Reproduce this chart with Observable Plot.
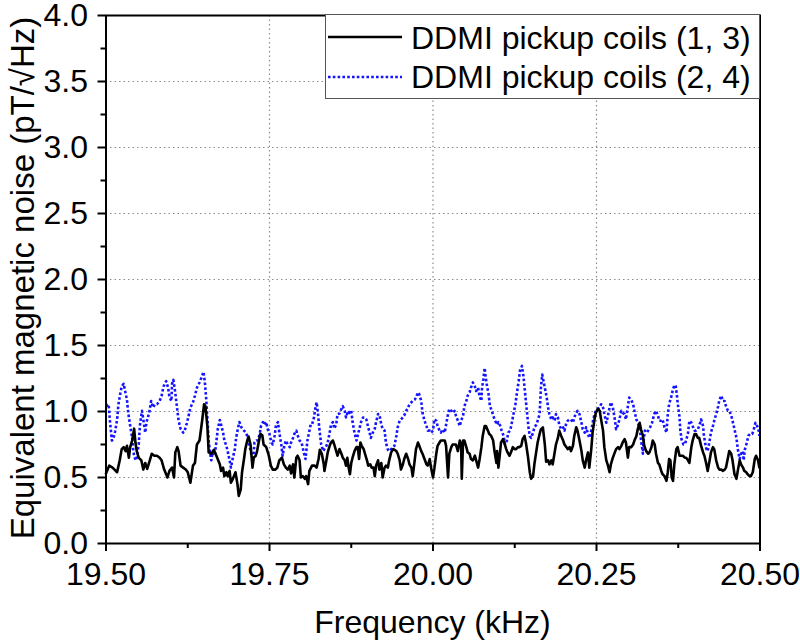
<!DOCTYPE html>
<html>
<head>
<meta charset="utf-8">
<script src="https://cdn.jsdelivr.net/npm/d3@7"></script>
<script src="https://cdn.jsdelivr.net/npm/@observablehq/plot@0.6"></script>
<style>
  html, body { margin: 0; padding: 0; background: #fff; }
  #wrap { position: relative; width: 800px; height: 644px; font-family: "Liberation Sans", Arial, sans-serif; color: #000; }
  .title { position: absolute; font-size: 32px; line-height: 1; white-space: nowrap; }
  #legend { position: absolute; left: 325px; top: 14px; }
</style>
</head>
<body>
<div id="wrap"></div>
<script>
// ---------- data ----------
const seriesNames = ["DDMI pickup coils (1, 3)", "DDMI pickup coils (2, 4)"];
const xTicks = [19.5, 19.75, 20.0, 20.25, 20.5];
const xMinorTicks = [19.625, 19.875, 20.125, 20.375];
const xGrid = [19.75, 20.0, 20.25];
const yTicks = [0, 0.5, 1.0, 1.5, 2.0, 2.5, 3.0, 3.5, 4.0];
const yMinorTicks = [0.25, 0.75, 1.25, 1.75, 2.25, 2.75, 3.25, 3.75];
const yGrid = [0.5, 1.0, 1.5, 2.0, 2.5, 3.0, 3.5];

const blackFreq = [
19.500,19.505,19.510,19.517,19.521,19.524,19.527,19.530,19.532,19.535,19.537,19.540,19.543,19.545,19.547,19.550,19.554,19.557,19.560,19.563,19.567,19.570,19.574,19.578,19.582,19.585,19.589,19.594,19.597,19.601,19.604,19.606,19.609,19.611,19.614,19.618,19.622,19.625,19.629,19.633,19.636,19.639,19.643,19.647,19.650,19.652,19.655,19.657,19.661,19.665,
19.670,19.674,19.676,19.679,19.681,19.684,19.686,19.689,19.691,19.694,19.698,19.701,19.703,19.706,19.708,19.711,19.713,19.716,19.718,19.721,19.724,19.726,19.729,19.731,19.734,19.736,19.739,19.741,19.745,19.749,19.752,19.755,19.759,19.762,19.765,19.769,19.772,19.775,19.778,19.781,19.783,19.786,19.788,19.791,19.793,19.796,19.798,19.801,19.804,19.806,19.809,19.811,19.815,19.819,19.822,19.825,19.827,19.830,19.833,
19.834,19.837,19.839,19.842,19.844,19.847,19.849,19.852,19.854,19.857,19.860,19.862,19.865,19.867,19.869,19.871,19.873,19.875,19.877,19.880,19.883,19.885,19.887,19.889,19.891,19.894,19.896,19.899,19.901,19.904,19.906,19.909,19.911,19.913,19.916,19.918,19.921,19.923,19.926,19.928,19.931,19.933,19.936,19.939,19.941,19.944,19.946,19.949,19.951,19.954,19.956,19.959,19.962,19.964,19.967,19.969,19.972,19.974,19.977,19.979,19.982,19.984,19.987,19.990,19.992,19.995,19.997,20.000,
20.002,20.005,20.007,20.010,20.012,20.015,20.018,20.020,20.023,20.025,20.028,20.030,20.033,20.035,20.038,20.041,20.043,20.044,20.046,20.048,20.051,20.053,20.056,20.058,20.061,20.064,20.066,20.069,20.071,20.074,20.076,20.079,20.081,20.084,20.086,20.089,20.092,20.094,20.097,20.098,20.100,20.102,20.104,20.107,20.109,20.112,20.114,20.117,20.120,20.122,20.125,20.127,20.130,20.132,20.135,20.137,20.140,20.142,20.145,20.148,20.150,20.153,20.155,20.158,20.160,20.163,20.165,20.168,20.171,
20.173,20.176,20.178,20.181,20.183,20.186,20.188,20.191,20.193,20.196,20.199,20.201,20.204,20.206,20.209,20.211,20.214,20.216,20.219,20.221,20.224,20.227,20.229,20.232,20.234,20.237,20.239,20.242,20.244,20.247,20.249,20.252,20.255,20.257,20.260,20.262,20.265,20.267,20.270,20.272,20.275,20.278,20.280,20.283,20.285,20.288,20.290,20.293,20.295,20.298,20.300,20.303,20.306,20.308,20.311,20.313,20.316,20.318,20.321,20.323,20.326,20.329,20.331,20.334,20.336,
20.339,20.341,20.344,20.346,20.349,20.351,20.354,20.357,20.359,20.361,20.363,20.365,20.367,20.369,20.372,20.374,20.377,20.379,20.382,20.385,20.387,20.390,20.392,20.395,20.397,20.400,20.402,20.405,20.407,20.410,20.413,20.415,20.418,20.420,20.423,20.425,20.428,20.430,20.433,20.436,20.438,20.441,20.443,20.446,20.448,20.451,20.453,20.456,20.458,20.461,20.464,20.466,20.469,20.471,20.474,20.476,20.479,20.481,20.484,20.486,20.489,20.492,20.494,20.497,20.499
];
const blackNoise = [
0.53,0.59,0.575,0.54,0.63,0.715,0.73,0.70,0.74,0.65,0.73,0.78,0.87,0.765,0.70,0.65,0.63,0.56,0.61,0.565,0.63,0.68,0.665,0.665,0.65,0.63,0.56,0.50,0.55,0.575,0.50,0.69,0.73,0.70,0.59,0.575,0.56,0.54,0.46,0.59,0.61,0.75,0.78,0.93,1.055,1.04,0.89,0.69,0.68,0.71,
0.65,0.60,0.55,0.575,0.51,0.54,0.51,0.55,0.46,0.49,0.54,0.45,0.36,0.41,0.54,0.64,0.715,0.78,0.81,0.75,0.575,0.65,0.665,0.70,0.78,0.83,0.82,0.75,0.73,0.665,0.59,0.56,0.56,0.575,0.63,0.65,0.60,0.575,0.56,0.59,0.53,0.60,0.50,0.65,0.665,0.63,0.50,0.51,0.49,0.51,0.45,0.55,0.59,0.59,0.575,0.64,0.71,0.68,0.60,
0.55,0.63,0.69,0.74,0.765,0.78,0.75,0.70,0.665,0.715,0.68,0.65,0.63,0.59,0.65,0.575,0.525,0.61,0.65,0.70,0.73,0.73,0.64,0.765,0.74,0.715,0.68,0.63,0.59,0.60,0.575,0.575,0.51,0.59,0.63,0.56,0.61,0.50,0.575,0.59,0.575,0.63,0.69,0.715,0.71,0.70,0.68,0.63,0.56,0.60,0.64,0.68,0.64,0.60,0.575,0.51,0.63,0.715,0.765,0.74,0.70,0.68,0.64,0.60,0.59,0.64,0.575,0.50,
0.565,0.68,0.74,0.765,0.78,0.78,0.78,0.74,0.50,0.68,0.73,0.75,0.75,0.75,0.70,0.78,0.75,0.49,0.78,0.78,0.73,0.69,0.68,0.64,0.63,0.665,0.63,0.575,0.63,0.73,0.815,0.89,0.89,0.855,0.83,0.815,0.78,0.70,0.61,0.70,0.575,0.665,0.765,0.79,0.765,0.715,0.69,0.665,0.70,0.73,0.715,0.715,0.73,0.73,0.74,0.79,0.815,0.765,0.665,0.54,0.49,0.51,0.60,0.70,0.765,0.83,0.865,0.88,0.75,
0.62,0.63,0.60,0.63,0.60,0.69,0.75,0.80,0.855,0.815,0.78,0.75,0.73,0.715,0.73,0.70,0.74,0.815,0.88,0.855,0.78,0.70,0.63,0.575,0.63,0.69,0.575,0.715,0.84,0.94,0.99,1.02,1.005,0.94,0.855,0.73,0.63,0.60,0.54,0.60,0.65,0.69,0.715,0.73,0.715,0.74,0.765,0.79,0.765,0.65,0.73,0.73,0.75,0.78,0.815,0.865,0.915,0.865,0.815,0.74,0.70,0.68,0.69,0.73,0.78,
0.75,0.68,0.61,0.60,0.55,0.525,0.51,0.475,0.54,0.64,0.63,0.50,0.475,0.60,0.715,0.73,0.665,0.665,0.665,0.65,0.65,0.63,0.61,0.73,0.78,0.83,0.83,0.80,0.80,0.74,0.69,0.665,0.60,0.55,0.63,0.69,0.73,0.715,0.63,0.575,0.56,0.56,0.55,0.56,0.575,0.65,0.70,0.68,0.63,0.525,0.49,0.55,0.63,0.60,0.575,0.55,0.54,0.525,0.51,0.51,0.54,0.64,0.665,0.63,0.575
];

const blueFreq = [
19.500,19.504,19.506,19.509,19.511,19.514,19.517,19.519,19.522,19.524,19.527,19.529,19.532,19.534,19.537,19.540,19.542,19.545,19.547,19.550,19.552,19.555,19.557,19.560,19.562,19.566,19.569,19.572,19.575,19.578,19.582,19.585,19.588,19.592,19.595,19.597,19.600,19.601,19.603,19.606,19.608,19.611,19.614,19.618,19.620,19.623,19.626,19.629,19.633,19.636,19.639,19.643,19.647,19.649,19.651,19.653,19.655,19.657,19.659,19.661,19.663,
19.666,19.668,19.671,19.674,19.676,19.679,19.681,19.684,19.686,19.689,19.691,19.694,19.697,19.699,19.702,19.704,19.707,19.711,19.714,19.717,19.719,19.722,19.725,19.727,19.730,19.732,19.735,19.737,19.740,19.742,19.745,19.747,19.750,19.753,19.755,19.758,19.760,19.763,19.765,19.768,19.770,19.773,19.775,19.778,19.781,19.783,19.786,19.788,19.791,19.793,19.796,19.799,19.802,19.805,19.808,19.810,19.813,19.815,19.818,19.820,19.822,19.824,19.826,19.829,19.832,
19.834,19.837,19.839,19.842,19.844,19.847,19.849,19.852,19.854,19.857,19.860,19.862,19.865,19.867,19.870,19.872,19.875,19.877,19.880,19.883,19.885,19.888,19.890,19.893,19.895,19.898,19.900,19.903,19.905,19.908,19.911,19.913,19.916,19.918,19.921,19.923,19.926,19.928,19.931,19.933,19.936,19.939,19.941,19.944,19.946,19.949,19.951,19.954,19.956,19.959,19.962,19.964,19.967,19.969,19.972,19.974,19.977,19.979,19.982,19.984,19.987,19.990,19.992,19.995,19.997,20.000,
20.002,20.005,20.007,20.010,20.012,20.015,20.018,20.020,20.023,20.025,20.028,20.030,20.033,20.035,20.038,20.041,20.043,20.046,20.048,20.051,20.053,20.056,20.058,20.061,20.064,20.066,20.069,20.071,20.074,20.075,20.077,20.079,20.080,20.082,20.085,20.087,20.090,20.092,20.095,20.098,20.100,20.103,20.105,20.108,20.110,20.113,20.115,20.118,20.120,20.123,20.126,20.128,20.131,20.133,20.136,20.138,20.140,20.142,20.144,20.146,20.148,20.150,20.153,20.155,20.158,20.160,20.163,20.165,20.167,20.169,20.172,20.174,
20.176,20.178,20.181,20.183,20.186,20.188,20.191,20.193,20.196,20.199,20.201,20.204,20.206,20.209,20.211,20.214,20.216,20.219,20.221,20.224,20.227,20.229,20.232,20.234,20.237,20.239,20.242,20.244,20.247,20.249,20.252,20.255,20.257,20.260,20.262,20.265,20.267,20.270,20.272,20.275,20.278,20.280,20.283,20.285,20.288,20.290,20.293,20.295,20.298,20.300,20.303,20.306,20.308,20.311,20.313,20.316,20.318,20.321,20.322,20.324,20.327,20.329,20.332,20.335,20.337,
20.339,20.341,20.344,20.346,20.349,20.351,20.354,20.357,20.359,20.361,20.364,20.367,20.369,20.371,20.373,20.374,20.377,20.378,20.380,20.383,20.385,20.387,20.390,20.392,20.395,20.397,20.400,20.402,20.405,20.407,20.410,20.413,20.414,20.416,20.418,20.420,20.423,20.425,20.428,20.430,20.433,20.436,20.438,20.441,20.443,20.446,20.448,20.451,20.453,20.456,20.458,20.461,20.464,20.466,20.469,20.471,20.474,20.475,20.477,20.480,20.482,20.485,20.488,20.490,20.493,20.495,20.498,20.499
];
const blueNoise = [
1.04,1.055,0.93,0.78,0.79,0.85,0.94,1.055,1.14,1.19,1.21,1.16,1.09,0.99,0.89,0.80,0.69,0.63,0.65,0.75,0.90,1.005,0.94,0.84,0.92,0.99,1.08,1.03,1.055,1.055,1.08,1.12,1.19,1.23,1.18,1.11,1.08,1.21,1.24,1.14,1.055,0.93,0.87,0.84,0.85,0.90,0.96,1.03,1.07,1.12,1.18,1.22,1.27,1.30,1.23,1.11,0.95,0.78,0.69,0.63,0.69,
0.665,0.74,0.87,0.935,0.90,0.84,0.78,0.74,0.70,0.63,0.575,0.65,0.715,0.80,0.88,0.92,0.88,0.855,0.84,0.80,0.75,0.68,0.63,0.765,0.78,0.78,0.83,0.89,0.92,0.90,0.92,0.87,0.83,0.765,0.75,0.82,0.90,0.92,0.84,0.75,0.665,0.75,0.78,0.75,0.73,0.765,0.80,0.83,0.855,0.82,0.78,0.765,0.70,0.64,0.78,0.83,0.90,0.90,0.955,1.02,1.07,0.99,0.88,0.75,0.70,
0.715,0.74,0.765,0.84,0.90,0.92,0.87,0.90,0.98,0.985,1.02,1.04,1.005,0.955,1.005,0.99,1.005,0.92,0.84,0.78,0.82,0.88,0.92,0.955,0.955,0.94,0.90,0.84,0.80,0.84,0.87,0.92,0.98,0.98,0.90,0.87,0.855,0.765,0.71,0.70,0.715,0.73,0.74,0.815,0.88,0.93,0.94,0.955,0.97,1.005,1.03,1.055,1.07,1.08,1.09,1.105,1.145,1.13,1.08,0.99,0.93,0.89,0.855,0.855,0.84,0.855,
0.94,0.93,0.89,0.855,0.84,0.865,0.84,0.90,0.98,1.02,1.005,0.99,1.005,0.97,0.93,0.89,0.93,0.97,1.04,1.08,1.12,1.145,1.18,1.22,1.19,1.155,1.18,1.12,1.08,1.18,1.245,1.33,1.28,1.21,1.13,1.04,1.005,0.97,0.93,0.90,0.92,0.89,0.855,0.815,0.75,0.78,0.84,0.855,0.90,0.98,1.055,1.13,1.23,1.31,1.345,1.28,1.18,1.08,0.98,0.88,0.815,0.80,0.84,0.88,0.90,0.93,0.98,1.18,1.28,1.23,1.155,1.10,
1.03,0.98,0.94,0.955,0.93,0.98,0.955,0.90,0.865,0.88,0.855,0.915,0.93,0.94,0.94,0.915,0.955,0.99,1.005,0.98,0.915,0.865,0.84,0.88,0.83,0.80,0.855,0.915,0.98,1.005,1.02,1.03,1.055,1.03,0.98,0.915,0.955,1.03,1.07,1.03,0.94,0.865,0.90,0.94,1.005,0.99,0.98,0.94,1.04,1.105,1.09,1.055,1.005,0.94,0.915,0.88,0.79,0.68,0.78,0.855,0.84,0.855,0.88,0.915,0.955,
0.99,1.005,0.97,0.93,0.93,0.94,0.88,0.84,0.98,1.055,1.105,1.17,1.195,1.20,1.12,1.07,0.955,0.865,0.79,0.75,0.75,0.78,0.84,0.93,0.915,0.89,0.855,0.855,0.865,0.89,0.94,0.89,0.83,0.765,0.715,0.70,0.78,0.84,0.89,0.93,0.98,1.04,1.09,1.12,1.08,1.08,1.04,1.005,1.005,0.97,0.93,0.865,0.80,0.715,0.64,0.68,0.70,0.63,0.715,0.765,0.815,0.83,0.83,0.855,0.915,0.90,0.855,0.815
];

// ---------- build tables ----------
const blackData = d3.zip(blackFreq, blackNoise).map(([f, v]) => ({f, v}));
const blueData = d3.zip(blueFreq, blueNoise).map(([f, v]) => ({f, v}));

const FONT = "'Liberation Sans', Arial, sans-serif";
const BLUE = "#1414ff";

const chart = Plot.plot({
  width: 800,
  height: 644,
  marginLeft: 105.5,
  marginRight: 40.5,
  marginTop: 15,
  marginBottom: 101,
  style: {fontFamily: FONT, fontSize: "32px", color: "#000", background: "#fff", overflow: "visible"},
  x: {domain: [19.5, 20.5], label: null},
  y: {domain: [0, 4], label: null},
  marks: [
    Plot.gridX(xGrid, {stroke: "#8c8c8c", strokeOpacity: 1, strokeWidth: 1.2, strokeDasharray: "1.5,3"}),
    Plot.gridY(yGrid, {stroke: "#8c8c8c", strokeOpacity: 1, strokeWidth: 1.2, strokeDasharray: "1.5,3"}),
    Plot.axisX(xTicks, {tickSize: 8, tickPadding: 11, strokeWidth: 2, tickFormat: d => d.toFixed(2), label: null, fontSize: 32}),
    Plot.axisX(xMinorTicks, {tickSize: 5, strokeWidth: 2, tickFormat: () => "", label: null}),
    Plot.axisY(yTicks, {tickSize: 8, tickPadding: 10, strokeWidth: 2, tickFormat: d => d.toFixed(1), label: null, fontSize: 32}),
    Plot.axisY(yMinorTicks, {tickSize: 5, strokeWidth: 2, tickFormat: () => "", label: null}),
    Plot.line(blueData, {x: "f", y: "v", stroke: BLUE, strokeWidth: 2.6, strokeDasharray: "2.6,2.2", strokeLinecap: "butt"}),
    Plot.line(blackData, {x: "f", y: "v", stroke: "#000", strokeWidth: 2.6}),
    Plot.frame({stroke: "#000", strokeWidth: 2})
  ]
});

const wrap = document.getElementById("wrap");
wrap.appendChild(chart);

// axis titles
const xt = document.createElement("div");
xt.className = "title";
xt.textContent = "Frequency (kHz)";
xt.style.left = "432.5px";
xt.style.top = "606px";
xt.style.transform = "translateX(-50%)";
wrap.appendChild(xt);

const yt = document.createElement("div");
yt.className = "title";
yt.textContent = "Equivalent magnetic noise (pT/\u221AHz)";
yt.style.fontSize = "33px";
yt.style.left = "22px";
yt.style.top = "278px";
yt.style.transform = "translate(-50%, -50%) rotate(-90deg)";
wrap.appendChild(yt);

// legend
const lg = d3.select(wrap).append("svg")
  .attr("id", "legend")
  .attr("width", 436).attr("height", 86)
  .style("font-family", FONT).style("font-size", "32px");
lg.append("rect").attr("x", 0.5).attr("y", 0.5).attr("width", 434).attr("height", 84)
  .attr("fill", "#fff").attr("stroke", "#555").attr("stroke-width", 1);
const rows = [
  {name: seriesNames[0], stroke: "#000", dash: null, ly: 23, ty: 35},
  {name: seriesNames[1], stroke: BLUE, dash: "2.6,2.2", ly: 63, ty: 74}
];
rows.forEach(r => {
  lg.append("line").attr("x1", 3).attr("x2", 77).attr("y1", r.ly).attr("y2", r.ly)
    .attr("stroke", r.stroke).attr("stroke-width", 2.6).attr("stroke-dasharray", r.dash);
  lg.append("text").attr("x", 86).attr("y", r.ty).attr("fill", "#000").text(r.name);
});
</script>
</body>
</html>
